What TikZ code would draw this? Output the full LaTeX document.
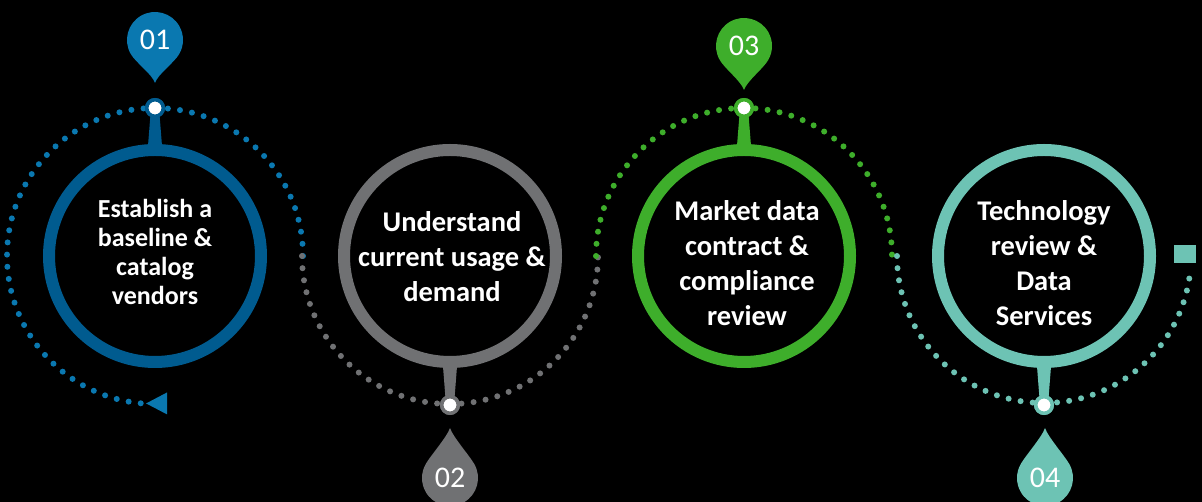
\documentclass[tikz,border=0pt]{standalone}
\usepackage{fontspec}
\setmainfont{Carlito}
\usepackage{tikz}
\usetikzlibrary{positioning,calc}

\definecolor{blueRing}{HTML}{005B8F}
\definecolor{bluePin}{HTML}{0A78B0}
\definecolor{grayRing}{HTML}{707173}
\definecolor{greenRing}{HTML}{3EAE2B}
\definecolor{tealRing}{HTML}{6DC3B4}

\begin{document}
\begin{tikzpicture}[x=1pt,y=1pt,
		ring/.style={circle,draw=#1,line width=12pt,minimum size=212pt,inner sep=0pt},
		knob/.style={circle,fill=white,draw=#1,line width=3.5pt,minimum size=16.5pt,inner sep=0pt},
		dotarc/.style={draw=#1,line width=6pt,line cap=round,dash pattern=on 0pt off 12.2pt},
		steptext/.style={text=white,align=center,font=\bfseries\fontsize{28.5}{35}\selectfont},
		pinnum/.style={text=white,font=\fontsize{30}{30}\selectfont}]

	\fill[black] (0,0) rectangle (1202,502);
	\useasboundingbox (0,0) rectangle (1202,502);
	\clip (0,0) rectangle (1202,502);

	% the four rings
	\node[ring=blueRing] (r1) at (155,246) {};
	\node[ring=grayRing] (r2) at (450,246) {};
	\node[ring=greenRing] (r3) at (744,246) {};
	\node[ring=tealRing] (r4) at (1044,246) {};

	% dotted path round the rings
	\draw[dotarc=bluePin] (r1.center) ++(0:148) arc[start angle=0,end angle=265,radius=148] coordinate (a1);
	\draw[dotarc=grayRing] (r2.center) ++(180:148) arc[start angle=180,end angle=360,radius=148];
	\draw[dotarc=greenRing] (r3.center) ++(180:148) arc[start angle=180,end angle=0,radius=148];
	\draw[dotarc=tealRing] (r4.center) ++(180:147) arc[start angle=180,end angle=355,radius=147] coordinate (a4);
	\fill[bluePin] (a1) ++(4,0) -- ++(21,11) -- ++(0,-22) -- cycle;
	\node[fill=tealRing,minimum width=22pt,minimum height=18pt,inner sep=0pt] (sq) at (1185,248) {};

	% knobs on the path, with their stems
	\node[knob=blueRing] (k1) [above=26pt of r1] {};
	\node[knob=grayRing] (k2) [below=27pt of r2] {};
	\node[knob=greenRing] (k3) [above=26pt of r3] {};
	\node[knob=tealRing] (k4) [below=27pt of r4] {};
	\fill[blueRing] ($(r1.north)+(-7.5,-8)$) -- ($(k1.center)+(-4,0)$) -- ($(k1.center)+(4,0)$) -- ($(r1.north)+(7.5,-8)$) -- cycle;
	\fill[grayRing] ($(r2.south)+(-7.5,8)$) -- ($(k2.center)+(-4,0)$) -- ($(k2.center)+(4,0)$) -- ($(r2.south)+(7.5,8)$) -- cycle;
	\fill[greenRing] ($(r3.north)+(-7.5,-8)$) -- ($(k3.center)+(-4,0)$) -- ($(k3.center)+(4,0)$) -- ($(r3.north)+(7.5,-8)$) -- cycle;
	\fill[tealRing] ($(r4.south)+(-7.5,8)$) -- ($(k4.center)+(-4,0)$) -- ($(k4.center)+(4,0)$) -- ($(r4.south)+(7.5,8)$) -- cycle;
	\node[knob=blueRing] at (k1) {};
	\node[knob=grayRing] at (k2) {};
	\node[knob=greenRing] at (k3) {};
	\node[knob=tealRing] at (k4) {};

	% numbered pins
	\foreach \n/\px/\py/\d/\rot/\col in {1/155/462/43/0/bluePin, 2/450/24/50/180/grayRing, 3/744/456/44/0/greenRing, 4/1045/24/50/180/tealRing}{
		\fill[\col,shift={(\px,\py)},rotate=\rot] (210:28) arc[start angle=210,end angle=-30,radius=28]
			.. controls (19.25,-22.7) and (3,-\d+9) .. (0,-\d)
			.. controls (-3,-\d+9) and (-19.25,-22.7) .. (210:28) -- cycle;
		\node[pinnum] (n\n) at (\px,\py) {0\n};
	}

	% texts
	\node[steptext,font=\bfseries\fontsize{26}{29}\selectfont] (t1) at (155,250) {Establish a\\baseline \&\\catalog\\vendors};
	\node[steptext] (t2) at (452,245) {Understand\\current usage \&\\demand};
	\node[steptext] (t3) at (747,239) {Market data\\contract \&\\compliance\\review};
	\node[steptext] (t4) at (1044,239) {Technology\\review \&\\Data\\Services};
\end{tikzpicture}
\end{document}
